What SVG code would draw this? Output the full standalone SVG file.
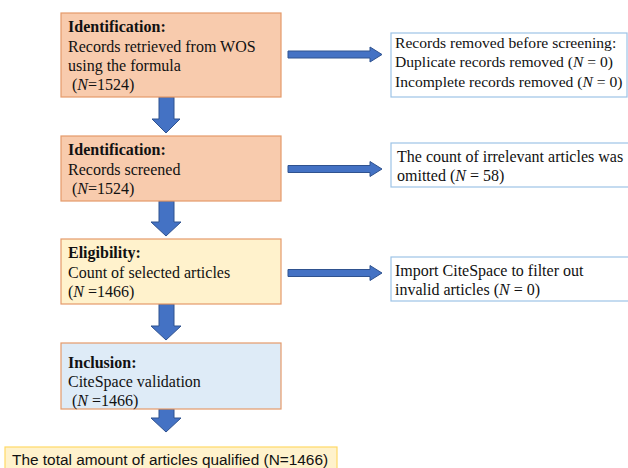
<svg xmlns="http://www.w3.org/2000/svg" width="628" height="468" viewBox="0 0 628 468">
<style>
.t{font-family:"Liberation Serif","Times New Roman",serif;font-size:16px;fill:#111}
.r{font-size:15.6px}
.b{font-weight:bold}
.i{font-style:italic}
.peach{fill:#f8cbad;stroke:#e49a6a;stroke-width:1.2}
.yel{fill:#fff2cc;stroke:#e49a6a;stroke-width:1.2}
.blue{fill:#deebf7;stroke:#e49a6a;stroke-width:1.2}
.side{fill:#fff;stroke:#9dc3e6;stroke-width:1.2}
.arr{fill:#4472c4;stroke:#2f528f;stroke-width:1}
.fin{fill:#fff2cc;stroke:#ffd966;stroke-width:1.2}
.ft{font-family:"Liberation Sans",Calibri,Arial,sans-serif;font-size:15.4px;fill:#111}
</style>
<rect width="628" height="468" fill="#fff"/>
<g id="connectors">
<path class="arr" d="M159,97 H174 V119 H180 L166,133 L152,119 H159 Z"/>
<path class="arr" d="M159,201 H174 V222 H181 L166,236 L151,222 H159 Z"/>
<path class="arr" d="M159,304 H174 V326 H181 L166,340 L151,326 H159 Z"/>
<path class="arr" d="M159,409 H174 V418 H181 L166,432 L151,418 H159 Z"/>
<path class="arr" d="M288,51 H370 V47 L382,54.5 L370,62 V58 H288 Z"/>
<path class="arr" d="M288,165.5 H370 V161.5 L382,169 L370,176.5 V172.5 H288 Z"/>
<path class="arr" d="M288,269.5 H370 V265.5 L382,273 L370,280.5 V276.5 H288 Z"/>
</g>
<g id="n1">
<rect class="peach" x="61" y="13" width="220" height="84"/>
<text class="t b" x="68" y="32">Identification:</text>
<text class="t" x="68" y="52">Records retrieved from WOS</text>
<text class="t" x="68" y="71">using the formula</text>
<text class="t" x="72" y="90">(<tspan class="i">N</tspan>=1524)</text>
</g>
<g id="n2">
<rect class="peach" x="61" y="136" width="220" height="65"/>
<text class="t b" x="68" y="155">Identification:</text>
<text class="t" x="68" y="175">Records screened</text>
<text class="t" x="72" y="194">(<tspan class="i">N</tspan>=1524)</text>
</g>
<g id="n3">
<rect class="yel" x="61" y="239" width="220" height="65"/>
<text class="t b" x="68" y="258">Eligibility:</text>
<text class="t" x="68" y="278">Count of selected articles</text>
<text class="t" x="68" y="297">(<tspan class="i">N</tspan> =1466)</text>
</g>
<g id="n4">
<rect class="blue" x="61" y="343" width="220" height="66"/>
<text class="t b" x="68" y="368">Inclusion:</text>
<text class="t" x="68" y="387">CiteSpace validation</text>
<text class="t" x="72" y="405.5">(<tspan class="i">N</tspan> =1466)</text>
</g>
<g id="s1">
<rect class="side" x="391" y="33" width="236" height="64"/>
<text class="t r" x="395" y="48">Records removed before screening:</text>
<text class="t r" x="395" y="67">Duplicate records removed (<tspan class="i">N</tspan> = 0)</text>
<text class="t r" x="395" y="87">Incomplete records removed (<tspan class="i">N</tspan> = 0)</text>
</g>
<g id="s2">
<rect class="side" x="391" y="143" width="245" height="44"/>
<text class="t" x="397" y="162">The count of irrelevant articles was</text>
<text class="t" x="397" y="181">omitted (<tspan class="i">N</tspan> = 58)</text>
</g>
<g id="s3">
<rect class="side" x="391" y="257" width="245" height="44"/>
<text class="t" x="395" y="276">Import CiteSpace to filter out</text>
<text class="t" x="395" y="295">invalid articles (<tspan class="i">N</tspan> = 0)</text>
</g>
<g id="n5">
<rect class="fin" x="5" y="447" width="332" height="30"/>
<text class="ft" x="12" y="465">The total amount of articles qualified (N=1466)</text>
</g>
</svg>
